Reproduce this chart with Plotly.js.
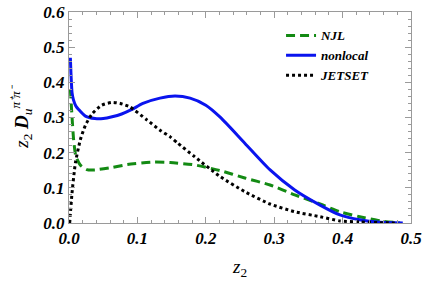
<!DOCTYPE html>
<html>
<head>
<meta charset="utf-8">
<script src="https://cdn.plot.ly/plotly-3.0.1.min.js"></script>
<style>html,body{margin:0;padding:0;background:#fff;}#chart{width:425px;height:284px;}</style>
</head>
<body>
<div id="chart"></div>
<script>
// nonlocal (blue, solid)
const zNonlocal = [0.002,0.003,0.0045,0.0065,0.01,0.014,0.024,0.038,0.05,0.063,0.077,0.092,0.108,0.133,0.155,0.177,0.2,0.221,0.257,0.294,0.33,0.367,0.396,0.425,0.455,0.488];
const vNonlocal = [0.47,0.42,0.37,0.35,0.333,0.323,0.304,0.297,0.297,0.302,0.31,0.323,0.34,0.355,0.361,0.355,0.335,0.301,0.227,0.151,0.094,0.051,0.023,0.009,0.002,0.0];
// NJL (green, dashed)
const zNJL = [0.002,0.0044,0.0068,0.01,0.0165,0.026,0.038,0.063,0.085,0.123,0.148,0.184,0.221,0.257,0.294,0.33,0.367,0.396,0.425,0.455,0.484];
const vNJL = [0.38,0.302,0.236,0.19,0.165,0.152,0.151,0.158,0.166,0.173,0.172,0.165,0.149,0.128,0.108,0.08,0.054,0.032,0.018,0.006,0.0];
// JETSET (black, dotted)
const zJETSET = [0.001,0.0044,0.0093,0.0165,0.024,0.034,0.048,0.063,0.075,0.089,0.114,0.133,0.148,0.159,0.184,0.221,0.257,0.294,0.33,0.367,0.396,0.425,0.455,0.48];
const vJETSET = [0.0,0.085,0.17,0.236,0.278,0.311,0.335,0.343,0.34,0.33,0.293,0.264,0.245,0.227,0.188,0.132,0.089,0.054,0.032,0.018,0.006,0.003,0.001,0.0];

const xTickVals = [0,0.1,0.2,0.3,0.4,0.5];
const xTickText = ['0.0','0.1','0.2','0.3','0.4','0.5'];
const yTickVals = [0,0.1,0.2,0.3,0.4,0.5,0.6];
const yTickText = ['0.0','0.1','0.2','0.3','0.4','0.5','0.6'];

const serif = 'Liberation Serif';
const tickFont = {family: serif, size: 17, color: '#000', weight: 'bold', style: 'italic'};
const frame = '#9a9a9a';

const traces = [
  {x: zNJL, y: vNJL, name: 'NJL', mode: 'lines', line: {color: '#138a13', width: 3, dash: '9px,5px', shape: 'spline', smoothing: 0.6}},
  {x: zNonlocal, y: vNonlocal, name: 'nonlocal', mode: 'lines', line: {color: '#0a14ee', width: 3, shape: 'spline', smoothing: 0.7}},
  {x: zJETSET, y: vJETSET, name: 'JETSET', mode: 'lines', line: {color: '#000', width: 3, dash: '3px,3px', shape: 'spline', smoothing: 0.6}}
];

const axisCommon = {
  showgrid: false, zeroline: false, showline: true, linecolor: frame, linewidth: 1,
  mirror: 'allticks', ticks: 'inside', ticklen: 6, tickcolor: frame, tickwidth: 1,
  tickfont: tickFont, automargin: false
};

const layout = {
  width: 425, height: 284,
  margin: {l: 69, r: 14, t: 12, b: 61},
  paper_bgcolor: '#fff', plot_bgcolor: '#fff',
  font: {family: serif},
  showlegend: true,
  legend: {x: 0.62, y: 0.96, xanchor: 'left', yanchor: 'top', bgcolor: 'rgba(0,0,0,0)', borderwidth: 0,
    font: {family: serif, size: 13, color: '#000', weight: 'bold', style: 'italic'}, tracegroupgap: 0},
  xaxis: Object.assign({}, axisCommon, {
    range: [0, 0.5], tickvals: xTickVals, ticktext: xTickText,
    minor: {dtick: 0.02, tick0: 0, ticks: 'inside', ticklen: 3, tickcolor: frame, showgrid: false},
    title: {text: '<i>z</i><sub>2</sub>', standoff: 12, font: {family: serif, size: 19, color: '#000'}}
  }),
  yaxis: Object.assign({}, axisCommon, {
    range: [0, 0.6], tickvals: yTickVals, ticktext: yTickText,
    minor: {dtick: 0.02, tick0: 0, ticks: 'inside', ticklen: 3, tickcolor: frame, showgrid: false},
    title: {text: '<i>z</i><sub>2</sub> <b><i>D</i></b><sub><i>u</i></sub><sup><i>π⁺π⁻</i></sup>', standoff: 9, font: {family: serif, size: 19, color: '#000'}}
  })
};

Plotly.newPlot('chart', traces, layout, {displayModeBar: false, staticPlot: true});
</script>
</body>
</html>
